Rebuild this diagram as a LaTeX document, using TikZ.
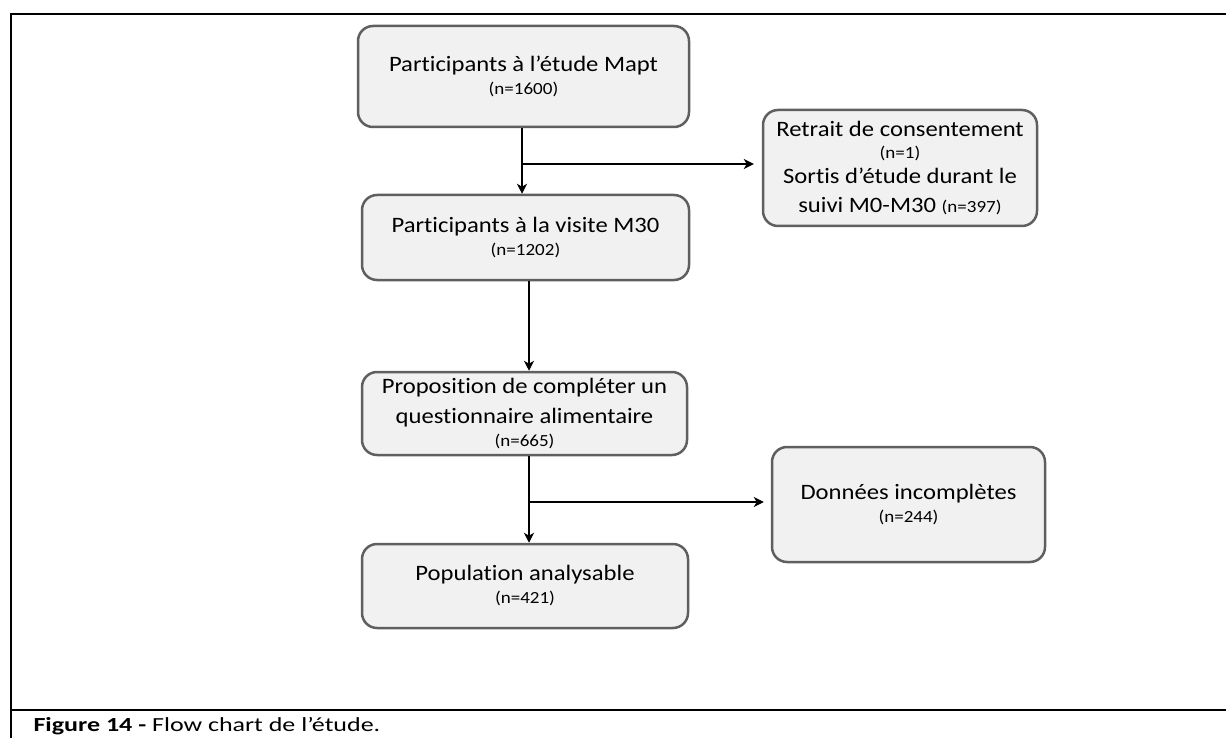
\documentclass[tikz,border=0pt]{standalone}
\usepackage{fontspec}
\setmainfont{Carlito}[FakeStretch=1.12, Ligatures=NoCommon]
\newfontfamily\capfont{Carlito}[FakeStretch=1.3, Ligatures=NoCommon]
\usetikzlibrary{arrows.meta}
\definecolor{boxfill}{HTML}{F1F1F1}
\definecolor{boxline}{HTML}{5F5F5F}
\tikzset{
  flowbox/.style={draw=boxline, fill=boxfill, line width=2.5pt, rounded corners=15pt,
    inner sep=0pt, align=center, font=\fontsize{22}{30}\selectfont},
  arr/.style={line width=1.1pt, -{Stealth[length=10pt,width=10pt,inset=3pt]}},
  frameline/.style={line width=2pt, line cap=rect},
}
\newcommand{\nsmall}[1]{{\fontsize{17}{20}\selectfont #1}}
\begin{document}
\begin{tikzpicture}[x=1pt,y=-1pt]
\useasboundingbox (0,0) rectangle (1226,738);
% frame
\draw[frameline] (11,738) -- (11,14) -- (1226,14);
\draw[frameline] (11,710) -- (1226,710);
\node[anchor=west, font=\capfont\fontsize{20}{24}\selectfont] (cap) at (30,726)
  {\textbf{Figure 14 -} Flow chart de l’étude.};
% boxes
\node[flowbox, minimum width=331pt, minimum height=101pt] (b1) at (523.5,76.5)
  {Participants à l’étude Mapt\\[-7pt]\nsmall{(n=1600)}};
\node[flowbox, minimum width=327pt, minimum height=85pt] (b2) at (525.5,237.5)
  {Participants à la visite M30\\[-7pt]\nsmall{(n=1202)}};
\node[flowbox, minimum width=325pt, minimum height=83pt] (b3) at (524.5,413.5)
  {Proposition de compléter un\\ questionnaire alimentaire\\[-7pt]\nsmall{(n=665)}};
\node[flowbox, minimum width=326pt, minimum height=84pt] (b4) at (525,586)
  {Population analysable\\[-7pt]\nsmall{(n=421)}};
\node[flowbox, minimum width=274pt, minimum height=116pt] (r1) at (900,168)
  {Retrait de consentement\\[-8pt]\nsmall{(n=1)}\\[-5pt] Sortis d’étude durant le\\[-1pt] suivi M0-M30 \nsmall{(n=397)}};
\node[flowbox, minimum width=273pt, minimum height=115pt] (r2) at (908.5,504.5)
  {Données incomplètes\\[-7pt]\nsmall{(n=244)}};
% connectors
\coordinate (c1) at (522,0);
\coordinate (c2) at (529,0);
\coordinate (j1) at (522,164);
\coordinate (j2) at (529,502);
\draw[arr] (b1.south -| c1) -- (b2.north -| c1);
\draw[arr] (j1) -- ([xshift=-8pt]j1 -| r1.west);
\draw[arr] (b2.south -| c2) -- (b3.north -| c2);
\draw[arr] (b3.south -| c2) -- (b4.north -| c2);
\draw[arr] (j2) -- ([xshift=-7pt]j2 -| r2.west);
\end{tikzpicture}
\end{document}
